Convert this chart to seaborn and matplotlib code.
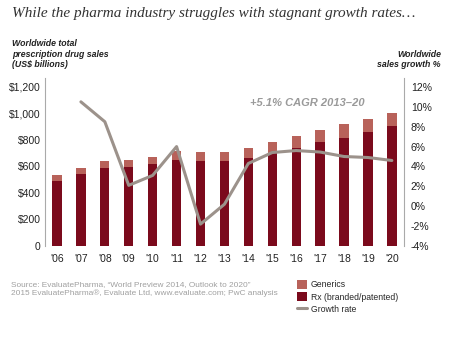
import matplotlib
matplotlib.use("Agg")
import matplotlib.pyplot as plt
import seaborn as sns
import numpy as np
import pandas as pd
from matplotlib.patches import Patch
from matplotlib.lines import Line2D

years = ["'06", "'07", "'08", "'09", "'10", "'11", "'12", "'13", "'14", "'15", "'16", "'17", "'18", "'19", "'20"]
total_sales = [532, 587, 643, 651, 673, 719, 709, 709, 742, 785, 828, 873, 919, 962, 1005]
rx_sales = [489, 542, 585, 597, 618, 651, 640, 640, 663, 704, 742, 785, 818, 863, 904]
growth = [np.nan, 10.5, 8.5, 2.1, 3.1, 6.0, -1.8, 0.2, 4.3, 5.4, 5.6, 5.45, 5.0, 4.9, 4.6]
left_ticks = [0, 200, 400, 600, 800, 1000, 1200]
left_labels = ["0", "$200", "$400", "$600", "$800", "$1,000", "$1,200"]
right_ticks = [-4, -2, 0, 2, 4, 6, 8, 10, 12]

c_rx = "#7b0a1c"
c_gen = "#b8625a"
c_line = "#9c928b"
c_text = "#222222"
c_grey = "#9a9a9a"

sns.set_theme(style="white")
plt.rcParams["font.family"] = ["Liberation Sans", "DejaVu Sans"]

df = pd.DataFrame({"year": years, "total": total_sales, "rx": rx_sales, "growth": growth})
df["pos"] = np.arange(len(df))

fig = plt.figure(figsize=(4.69, 3.56), dpi=100)
ax = fig.add_axes([0.096, 0.309, 0.765, 0.472])

sns.barplot(data=df, x="year", y="total", color=c_gen, width=0.39, ax=ax, saturation=1,
            linewidth=0, edgecolor="none")
sns.barplot(data=df, x="year", y="rx", color=c_rx, width=0.39, ax=ax, saturation=1,
            linewidth=0, edgecolor="none")
ax.set_ylim(0, 1268)
ax.set_xlim(-0.5, len(years) - 0.5)
ax.set_yticks(left_ticks)
ax.set_yticklabels(left_labels)
ax.set_xlabel("")
ax.set_ylabel("")
ax.tick_params(axis="y", length=0, labelsize=7.5, colors=c_text, pad=3)
ax.tick_params(axis="x", length=0, labelsize=7.5, colors=c_text, pad=6)
for s in ["top", "bottom"]:
    ax.spines[s].set_visible(False)
ax.spines["left"].set_color("#aaaaaa")
ax.spines["left"].set_linewidth(0.8)
ax.spines["right"].set_visible(False)

ax2 = ax.twinx()
sns.lineplot(data=df, x="pos", y="growth", color=c_line, linewidth=2.2, ax=ax2)
ax2.set_ylim(-4, 12.9)
ax2.set_yticks(right_ticks)
ax2.set_yticklabels([f"{t}%" for t in right_ticks])
ax2.set_ylabel("")
ax2.set_xlabel("")
ax2.tick_params(axis="y", length=0, labelsize=7.5, colors=c_text, pad=5)
for s in ["top", "bottom", "left"]:
    ax2.spines[s].set_visible(False)
ax2.spines["right"].set_color("#aaaaaa")
ax2.spines["right"].set_linewidth(0.8)
ax2.set_xlim(-0.5, len(years) - 0.5)

fig.text(0.025, 0.963, "While the pharma industry struggles with stagnant growth rates…",
         family=["Liberation Serif", "DejaVu Serif"], style="italic", fontsize=11,
         color="#333333", va="center", ha="left")
fig.text(0.025, 0.806, "Worldwide total\nprescription drug sales\n(US$ billions)",
         fontsize=6.3, fontweight="bold", style="italic", color=c_text, va="bottom", ha="left",
         linespacing=1.2)
fig.text(0.94, 0.806, "Worldwide\nsales growth %",
         fontsize=6.3, fontweight="bold", style="italic", color=c_text, va="bottom", ha="right",
         linespacing=1.2)
fig.text(0.655, 0.71, "+5.1% CAGR 2013–20", fontsize=8, fontweight="bold", style="italic",
         color=c_grey, ha="center", va="center")

fig.text(0.023, 0.188, "Source: EvaluatePharma, “World Preview 2014, Outlook to 2020”\n"
         "2015 EvaluatePharma®, Evaluate Ltd, www.evaluate.com; PwC analysis",
         fontsize=5.95, color="#a0a0a0", ha="left", va="center", linespacing=1.3)

handles = [Patch(facecolor=c_gen, edgecolor="none"),
           Patch(facecolor=c_rx, edgecolor="none"),
           Line2D([0], [0], color=c_line, linewidth=2.2)]
fig.legend(handles, ["Generics", "Rx (branded/patented)", "Growth rate"],
           loc="upper left", bbox_to_anchor=(0.633, 0.214), frameon=False,
           fontsize=6.2, handlelength=1.15, handleheight=1.25, handletextpad=0.45,
           labelspacing=0.35, borderaxespad=0, borderpad=0)

fig.savefig("out.png", dpi=100)
